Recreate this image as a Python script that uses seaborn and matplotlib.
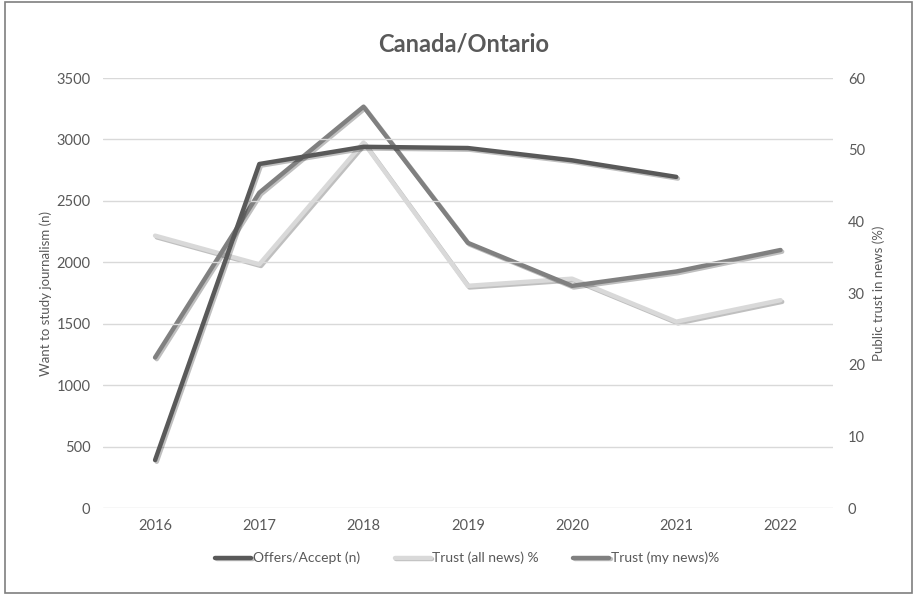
import matplotlib
matplotlib.use("Agg")
import matplotlib.pyplot as plt
import matplotlib.patheffects as pe
import seaborn as sns
import pandas as pd
import numpy as np

years = [2016, 2017, 2018, 2019, 2020, 2021, 2022]
offers_accept = [390, 2800, 2940, 2930, 2830, 2695, np.nan]
trust_all_news = [38, 34, 51, 31, 32, 26, 29]
trust_my_news = [21, 44, 56, 37, 31, 33, 36]

c_offers = "#595959"
c_all = "#d9d9d9"
c_my = "#808080"
txt = "#595959"

sns.set_theme(style="white")
plt.rcParams['font.family'] = ['Lato', 'DejaVu Sans']

df = pd.DataFrame({"year": years, "offers": offers_accept,
                   "all": trust_all_news, "my": trust_my_news})

fig = plt.figure(figsize=(9.16, 5.95), dpi=100)
ax = fig.add_axes([0.1124, 0.1462, 0.7966, 0.7227])
ax2 = ax.twinx()

shadow = [pe.SimpleLineShadow(offset=(1.2, -1.2), shadow_color="#000000", alpha=0.25), pe.Normal()]

sns.lineplot(data=df, x="year", y="all", ax=ax2, color=c_all, lw=3.2,
             label="Trust (all news) %", legend=False)
sns.lineplot(data=df, x="year", y="my", ax=ax2, color=c_my, lw=3.2,
             label="Trust (my news)%", legend=False)
sns.lineplot(data=df.dropna(), x="year", y="offers", ax=ax, color=c_offers, lw=3.2,
             label="Offers/Accept (n)", legend=False)
for l in ax.lines + ax2.lines:
    l.set_path_effects(shadow)
    l.set_solid_capstyle("round")

ax.set_zorder(ax2.get_zorder() + 1)
ax.patch.set_visible(False)

ax.set_ylim(0, 3500)
ax.set_yticks(range(0, 3501, 500))
ax2.set_ylim(0, 60)
ax2.set_yticks(range(0, 61, 10))
ax.set_xlim(2015.5, 2022.5)
ax.set_xticks(years)
ax.set_xticklabels([str(y) for y in years])

ax.yaxis.grid(True, color="#d9d9d9", lw=1)
ax.xaxis.grid(False)
ax2.grid(False)
for a in (ax, ax2):
    for s in a.spines.values():
        s.set_visible(False)
    a.tick_params(length=0, colors=txt, labelsize=10.5)
ax.tick_params(axis="y", pad=9)
ax2.tick_params(axis="y", pad=11)
ax.tick_params(axis="x", pad=8)

ax.set_xlabel("")
ax.set_ylabel("Want to study journalism (n)", color=txt, fontsize=9.5, labelpad=3)
ax2.set_ylabel("Public trust in news (%)", color=txt, fontsize=9.5, rotation=90, labelpad=5)

fig.suptitle("Canada/Ontario", x=0.506, y=0.945, fontsize=17, fontweight="bold", color=txt)

handles = [ax.lines[0], ax2.lines[0], ax2.lines[1]]
labels = ["Offers/Accept (n)", "Trust (all news) %", "Trust (my news)%"]
leg = fig.legend(handles, labels, loc="center", bbox_to_anchor=(0.51, 0.062), ncol=3,
                 frameon=False, fontsize=10, handlelength=2.6, handletextpad=0.1,
                 columnspacing=2.5, labelcolor=txt)

border = plt.Rectangle((0.006, 0.003), 0.99, 0.993, transform=fig.transFigure,
                       fill=False, edgecolor="#7f7f7f", lw=1.2)
fig.patches.append(border)

fig.savefig("out.png", dpi=100)
